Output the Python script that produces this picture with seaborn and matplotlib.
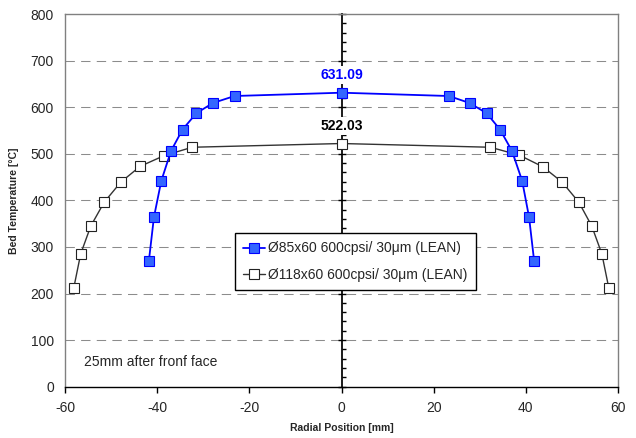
import numpy as np
import pandas as pd
import matplotlib
matplotlib.use("Agg")
import matplotlib.pyplot as plt
import seaborn as sns
from matplotlib.ticker import MultipleLocator

# data
x_85 = [-41.8, -40.7, -39.1, -37.0, -34.5, -31.5, -27.9, -23.2, 0.0,
        23.3, 27.8, 31.5, 34.4, 37.0, 39.2, 40.7, 41.8]
t_85 = [270, 364, 442, 506, 552, 587, 609, 624, 631.09,
        624, 609, 587, 552, 506, 442, 364, 270]

x_118 = [-58.1, -56.6, -54.4, -51.5, -47.9, -43.7, -38.5, -32.4, 0.0,
         32.3, 38.6, 43.7, 47.9, 51.5, 54.3, 56.5, 58.0]
t_118 = [212, 285, 345, 396, 439, 473, 496, 514, 522.03,
         514, 497, 472, 439, 396, 345, 285, 212]

label_85 = "Ø85x60 600cpsi/ 30μm (LEAN)"
label_118 = "Ø118x60 600cpsi/ 30μm (LEAN)"

x_ticks = [-60, -40, -20, 0, 20, 40, 60]
y_ticks = [0, 100, 200, 300, 400, 500, 600, 700, 800]

sns.set_theme(style="white")
plt.rcParams["font.family"] = ["Liberation Sans", "DejaVu Sans"]
plt.rcParams["axes.unicode_minus"] = False

fig = plt.figure(figsize=(6.36, 4.38), dpi=100)
ax = fig.add_axes([0.1022, 0.1171, 0.8695, 0.8509])

# dashed horizontal gridlines
for y in y_ticks[1:-1]:
    ax.axhline(y, color="#8c8c8c", lw=0.75, ls=(0, (9, 6)), zorder=0)

df_118 = pd.DataFrame({"x": x_118, "t": t_118})
df_85 = pd.DataFrame({"x": x_85, "t": t_85})

sns.lineplot(data=df_85, x="x", y="t", ax=ax, color="#0000ff", lw=1.3,
             marker="s", markersize=6.5, markerfacecolor="#3366ff",
             markeredgecolor="#0000ff", markeredgewidth=0.8,
             sort=False, label=label_85, zorder=4)
sns.lineplot(data=df_118, x="x", y="t", ax=ax, color="#333333", lw=1.0,
             marker="s", markersize=6.5, markerfacecolor="white",
             markeredgecolor="#222222", markeredgewidth=0.8,
             sort=False, label=label_118, zorder=3)

ax.set_xlim(-60, 60)
ax.set_ylim(0, 800)
ax.set_xticks(x_ticks)
ax.set_yticks(y_ticks)
ax.tick_params(axis="x", direction="out", length=4, width=1, color="black",
               labelsize=10, pad=6, bottom=True)
ax.tick_params(axis="y", length=0, labelsize=10, pad=8)

for s in ["top", "right", "left"]:
    ax.spines[s].set_color("#808080")
    ax.spines[s].set_linewidth(1)
ax.spines["bottom"].set_color("black")
ax.spines["bottom"].set_linewidth(1)

# value axis crossing at x = 0
sec = ax.secondary_yaxis(0.5)
sec.set_zorder(1.5)
sec.spines["right"].set_color("black")
sec.spines["left"].set_color("black")
sec.set_yticks(y_ticks)
sec.yaxis.set_minor_locator(MultipleLocator(20))
sec.tick_params(axis="y", which="major", direction="inout", length=6,
                width=1, color="black", labelright=False, labelleft=False)
sec.tick_params(axis="y", which="minor", direction="out", length=3,
                width=1, color="black", labelright=False, labelleft=False)

ax.set_xlabel("Radial Position [mm]", fontsize=7.5, fontweight="bold",
              labelpad=6)
ax.set_ylabel("Bed Temperature [°C]", fontsize=7.5, fontweight="bold",
              labelpad=8)

box = dict(facecolor="white", edgecolor="none", pad=1.5)
ax.text(0, 669, "631.09", color="#0000ff", fontsize=10, fontweight="bold",
        ha="center", va="center", bbox=box, zorder=6)
ax.text(0, 559, "522.03", color="black", fontsize=10, fontweight="bold",
        ha="center", va="center", bbox=box, zorder=6)
ax.text(-55.9, 54, "25mm after fronf face", fontsize=10, ha="left",
        va="center")

leg = ax.legend(loc="upper left", bbox_to_anchor=(0.307, 0.412),
                fontsize=10, frameon=True, fancybox=False, edgecolor="black",
                framealpha=1, handlelength=1.6, handletextpad=0.2,
                borderpad=0.6, labelspacing=0.9, borderaxespad=0)
leg.get_frame().set_linewidth(1)
leg.set_zorder(10)

fig.savefig("out.png", dpi=100)
